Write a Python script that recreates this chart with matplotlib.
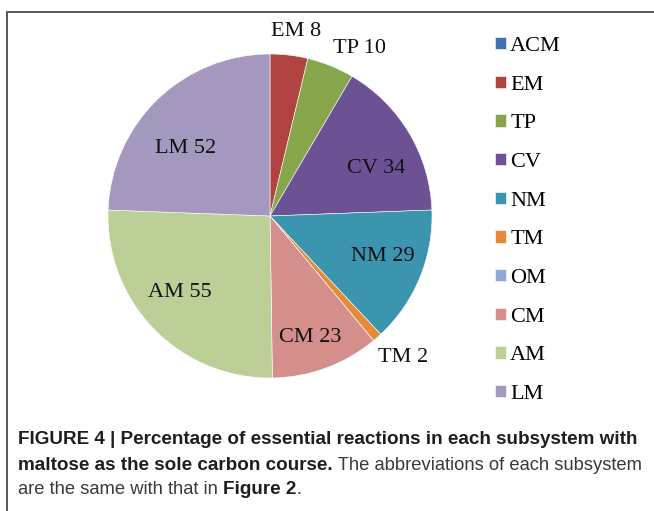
import numpy as np
import matplotlib
matplotlib.use('Agg')
import matplotlib.pyplot as plt
from matplotlib.patches import Rectangle

# essential reactions per subsystem (maltose as carbon source)
subsystems = ['ACM', 'EM', 'TP', 'CV', 'NM', 'TM', 'OM', 'CM', 'AM', 'LM']
counts = [0, 8, 10, 34, 29, 2, 0, 23, 55, 52]
colors = ['#4272AE', '#B0433F', '#87A64B', '#6C5294', '#3C95AF',
          '#E5893B', '#90A9D3', '#D48F8D', '#BBCF96', '#A598BF']
# data label placement: radius as fraction of R, and angle nudge from wedge middle (deg)
label_r = [None, 1.15, 1.17, 0.72, 0.74, 1.2, None, 0.79, 0.73, 0.67]
label_nudge = [0, -1.3, -6.2, -6.6, 2.5, 1.9, 0, -2.1, -4.2, 7.3]

W, H = 654, 511
fig = plt.figure(figsize=(W / 100, H / 100), dpi=100)

# outer frame, runs off the right and bottom edges
fig.add_artist(Rectangle((7 / W, -0.2), 1.5, 1.2 - 12 / H, transform=fig.transFigure,
                         fill=False, edgecolor='#4a4a4a', lw=1.3))

cx, cy, R = 270, 216, 162
ax = fig.add_axes([(cx - R) / W, (H - cy - R) / H, 2 * R / W, 2 * R / H])
wedges, _ = ax.pie(counts, colors=colors, startangle=90, counterclock=False,
                   wedgeprops=dict(linewidth=0.4, edgecolor='white'))
ax.set_xlim(-1, 1)
ax.set_ylim(-1, 1)
ax.set_aspect('equal')
ax.axis('off')

serif = 'Liberation Serif'
for w, name, n, r, da in zip(wedges, subsystems, counts, label_r, label_nudge):
    if n == 0:
        continue
    ang = np.deg2rad((w.theta1 + w.theta2) / 2 + da)
    ax.text(r * np.cos(ang), r * np.sin(ang), f'{name} {n}', ha='center', va='center',
            fontsize=16, family=serif, color='#111111', clip_on=False)

fig.legend(wedges, subsystems, loc='upper left', bbox_to_anchor=(495 / W, 1 - 37 / H),
           frameon=False, prop=dict(family=serif, size=16), labelspacing=0.88,
           handlelength=0.48, handleheight=0.48, handletextpad=0.2, borderpad=0,
           borderaxespad=0)

# caption with mixed bold / regular runs
renderer = fig.canvas.get_renderer()
caption = [
    [('FIGURE 4 | Percentage of essential reactions in each subsystem with', 'bold')],
    [('maltose as the sole carbon course.', 'bold'),
     (' The abbreviations of each subsystem', 'normal')],
    [('are the same with that in ', 'normal'), ('Figure 2', 'bold'), ('.', 'normal')],
]
line_y = [440, 465, 490]
for runs, y in zip(caption, line_y):
    x = 18
    for txt, weight in runs:
        bold = weight == 'bold'
        t = fig.text(x / W, 1 - y / H, txt, fontsize=13.55 if bold else 13.2,
                     family='Liberation Sans', weight=weight, va='center', ha='left',
                     color='#1e1e1e' if bold else '#3a3a3a')
        bb = t.get_window_extent(renderer)
        x += bb.width

fig.savefig('out.png', dpi=100)
